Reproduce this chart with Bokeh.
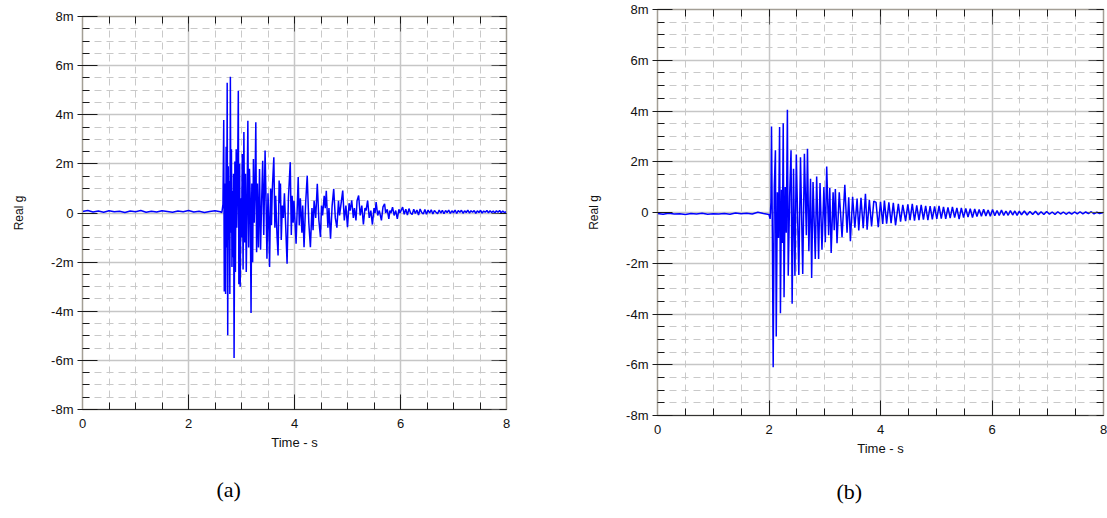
from bokeh.plotting import figure
from bokeh.layouts import row
from bokeh.models import FixedTicker, LinearAxis, Title, Range1d
from bokeh.embed import file_html
from bokeh.resources import INLINE

# ---- record (a): time in s, real acceleration in milli-g ----
t_a = [0.0, 0.1, 0.2, 0.3, 0.4, 0.5, 0.6, 0.7, 0.8, 0.9,
       1.0, 1.1, 1.2, 1.3, 1.4, 1.5, 1.6, 1.7, 1.8, 1.9,
       2.0, 2.1, 2.2, 2.3, 2.4, 2.5, 2.6,
       2.63, 2.65, 2.665, 2.675, 2.69, 2.70, 2.71, 2.72, 2.73, 2.74,
       2.75, 2.76, 2.77, 2.78, 2.79, 2.80, 2.81, 2.82, 2.83, 2.84,
       2.85, 2.86, 2.875, 2.885, 2.90, 2.91, 2.925, 2.94, 2.95, 2.965,
       2.975, 2.99, 3.00, 3.015, 3.03, 3.045, 3.06, 3.075, 3.09, 3.105,
       3.12, 3.135, 3.15, 3.165, 3.18, 3.195, 3.21, 3.225, 3.24, 3.255,
       3.27, 3.285, 3.30, 3.32, 3.34, 3.36, 3.38, 3.40, 3.42, 3.445,
       3.465, 3.48, 3.50, 3.515, 3.53, 3.55, 3.565, 3.58, 3.61, 3.63,
       3.645, 3.67, 3.69, 3.71, 3.725, 3.735, 3.75, 3.77, 3.79, 3.81,
       3.835, 3.86, 3.885, 3.92, 3.94, 3.955, 3.975, 3.99, 4.03, 4.07,
       4.09, 4.11, 4.14, 4.155, 4.18, 4.21, 4.24, 4.27, 4.30, 4.33,
       4.35, 4.37, 4.40, 4.43, 4.46, 4.49, 4.51, 4.53, 4.56, 4.58,
       4.60, 4.63, 4.65, 4.68, 4.71, 4.74, 4.77, 4.80, 4.83, 4.85,
       4.88, 4.91, 4.94, 4.97, 5.00, 5.03, 5.05, 5.08, 5.11, 5.13,
       5.16, 5.18, 5.21, 5.24, 5.27, 5.30, 5.33, 5.35, 5.38, 5.41,
       5.44, 5.47, 5.50, 5.52, 5.54, 5.57, 5.60, 5.64, 5.67, 5.70,
       5.72, 5.75, 5.78, 5.80, 5.82, 5.85, 5.88, 5.91, 5.94, 5.97,
       5.99, 6.04, 6.07, 6.10, 6.13, 6.16, 6.19, 6.22, 6.25, 6.28,
       6.31, 6.34, 6.37, 6.40, 6.43, 6.46, 6.49, 6.52, 6.55, 6.58,
       6.61, 6.64, 6.67, 6.70, 6.73, 6.76, 6.79, 6.82, 6.85, 6.88,
       6.91, 6.94, 6.97, 7.00, 7.03, 7.06, 7.09, 7.12, 7.15, 7.18,
       7.21, 7.24, 7.27, 7.30, 7.33, 7.36, 7.39, 7.42, 7.45, 7.48,
       7.51, 7.54, 7.57, 7.60, 7.63, 7.66, 7.69, 7.72, 7.75, 7.78,
       7.81, 7.84, 7.87, 7.90, 7.93, 7.96, 8.0]
g_a = [0.06, 0.10, 0.04, 0.08, 0.03, 0.09, 0.05, 0.07, 0.02, 0.08,
       0.05, 0.10, 0.03, 0.07, 0.04, 0.09, 0.06, 0.03, 0.08, 0.05,
       0.10, 0.04, 0.07, 0.02, 0.06, 0.09, 0.05,
       0.02, 0.35, 3.79, -3.2, 1.2, -3.3, 2.7, -1.4, 5.30, -4.98,
       1.9, -1.1, 1.3, -3.3, 5.55, -0.8, 2.6, -2.2, 0.9, -1.8,
       1.6, -5.9, 2.1, -2.4, 2.6, -0.6, 1.2, 4.98, -2.9, 2.0,
       -3.0, 0.6, -1.0, 2.4, -2.3, 3.3, -1.2, 1.6, -2.4, 0.4,
       3.76, -1.4, 1.8, 0.6, -4.07, 1.2, -2.0, 2.2, -0.4, 1.0,
       3.69, -1.6, 1.2, -1.4, 1.79, -1.5, 0.5, 2.13, -0.9, 2.54,
       0.3, -1.86, 0.8, -0.2, -2.2, 1.0, -0.5, 0.9, 2.27, -0.6,
       0.7, -0.9, -1.73, 1.32, 0.4, 1.2, -1.1, 0.3, -0.2, 0.8,
       -0.6, -2.07, 0.6, 2.07, -0.9, 0.7, -0.4, 0.5, -1.25, 1.46,
       -0.5, 0.6, -0.8, 0.3, -1.39, 0.4, 1.52, -0.4, -1.39, 0.2,
       -0.7, 0.5, -0.2, 1.19, -0.3, -0.98, 0.3, -0.1, 0.7, 0.2,
       0.9, -0.6, 0.2, -1.05, 0.3, 0.98, -0.2, -0.6, 0.5, -0.1,
       0.4, 0.91, -0.3, 0.3, -0.58, 0.4, 0.1, 0.51, -0.2, 0.2,
       -0.3, 0.5, 0.71, -0.1, 0.3, -0.47, 0.2, 0.1, 0.51, -0.2,
       0.1, -0.47, 0.2, 0.0, 0.44, -0.1, 0.1, -0.30, 0.25, 0.37,
       0.0, 0.15, -0.24, 0.1, 0.0, 0.24, -0.1, 0.1, -0.24, 0.15,
       0.0, 0.24, -0.05, 0.15, -0.08, 0.18, 0.0, -0.06, 0.15, -0.02,
       0.12, -0.08, 0.16, 0.02, -0.04, 0.14, -0.05, 0.12, 0.0, 0.13,
       -0.04, 0.10, 0.03, -0.03, 0.12, 0.0, 0.11, -0.03, 0.10, 0.02,
       0.12, -0.02, 0.09, 0.01, 0.12, -0.02, 0.10, 0.03, 0.11, -0.01,
       0.09, 0.02, 0.12, 0.0, 0.09, 0.03, 0.10, -0.01, 0.09, 0.02,
       0.11, 0.0, 0.08, 0.03, 0.10, 0.01, 0.09, 0.02, 0.08, 0.0,
       0.09, 0.03, 0.10, 0.01, 0.08, 0.02, 0.05]

# ---- record (b): time in s, real acceleration in milli-g ----
t_b = [0.0, 0.1, 0.2, 0.3, 0.4, 0.5, 0.6, 0.7, 0.8, 0.9, 1.0, 1.1, 1.2, 1.3,
       1.4, 1.5, 1.6, 1.7, 1.8, 1.9, 2.0,
       2.02, 2.035, 2.045, 2.06, 2.075, 2.095, 2.115, 2.13, 2.15, 2.17, 2.19,
       2.205, 2.225, 2.24, 2.255, 2.27, 2.29, 2.31, 2.33, 2.345, 2.37, 2.395,
       2.415, 2.44, 2.465, 2.49, 2.535, 2.565, 2.605, 2.635, 2.67, 2.69, 2.715,
       2.745, 2.765, 2.79, 2.83, 2.855, 2.89, 2.915, 2.95, 2.985, 3.01, 3.035,
       3.07, 3.09, 3.115, 3.15, 3.17, 3.19, 3.22, 3.26, 3.31, 3.36, 3.40, 3.43,
       3.46, 3.50, 3.54, 3.58, 3.61, 3.65, 3.69, 3.73, 3.76, 3.80, 3.84, 3.88,
       3.92, 3.96, 4.00, 4.04, 4.07, 4.11, 4.15, 4.19, 4.23, 4.27, 4.32, 4.36,
       4.40, 4.45, 4.49, 4.53, 4.57, 4.61, 4.65, 4.69, 4.73, 4.77, 4.81, 4.85,
       4.89, 4.93, 4.97, 5.01, 5.05, 5.09, 5.13, 5.17, 5.21, 5.25, 5.29, 5.33,
       5.37, 5.41, 5.45, 5.49, 5.53, 5.57, 5.61, 5.65, 5.69, 5.73, 5.77, 5.81,
       5.85, 5.89, 5.93, 5.97, 6.01, 6.05, 6.09, 6.13, 6.17, 6.21, 6.25, 6.29,
       6.33, 6.37, 6.41, 6.45, 6.49, 6.53, 6.58, 6.63, 6.68, 6.73, 6.78, 6.83,
       6.88, 6.93, 6.98, 7.03, 7.08, 7.13, 7.18, 7.23, 7.28, 7.33, 7.38, 7.43,
       7.48, 7.53, 7.58, 7.63, 7.68, 7.73, 7.78, 7.83, 7.88, 7.93, 8.0]
g_b = [-0.04, -0.07, -0.03, -0.06, -0.05, -0.08, -0.04, -0.06, -0.03, -0.07, -0.05, -0.06, -0.04, -0.07,
       -0.02, -0.05, -0.03, -0.06, 0.01, -0.04, -0.08,
       -0.25, 0.4, 3.39, -0.8, -6.1, 1.0, 2.45, -4.89, 0.8, -1.0, 3.37,
       -3.97, 0.9, -1.2, 3.52, -3.34, 1.0, -0.8, 4.05, -2.49, 0.6, 2.45,
       -3.6, 1.72, -2.49, 2.29, -2.46, 2.18, -2.42, 2.31, -0.9, 2.51, -1.53,
       1.33, -2.58, 1.20, -1.83, 1.42, -1.83, 1.16, -1.47, 1.0, -1.17, 1.81,
       -0.9, 0.96, -1.6, 0.8, -0.7, 0.93, -1.21, 0.8, -0.97, 1.09, -0.8, 0.6,
       -1.13, 0.62, -0.60, 0.55, -0.71, 0.58, -0.62, 0.74, -0.68, 0.50, -0.55, 0.45,
       0.40, -0.58, 0.42, -0.45, 0.47, -0.44, 0.40, -0.42, 0.38, -0.51, 0.34, -0.36,
       0.30, -0.34, 0.32, -0.30, 0.34, -0.32, 0.28, -0.30, 0.30, -0.28, 0.26, -0.30,
       0.25, -0.27, 0.24, -0.25, 0.26, -0.24, 0.22, -0.25, 0.20, -0.22, 0.22, -0.20,
       0.18, -0.26, 0.18, -0.20, 0.16, -0.18, 0.15, -0.20, 0.14, -0.16, 0.12, -0.15,
       0.13, -0.14, 0.10, -0.15, 0.12, -0.13, 0.08, -0.12, 0.10, -0.12, 0.06, -0.11,
       0.08, -0.10, 0.06, -0.11, 0.05, -0.09, 0.06, -0.10, 0.04, -0.08, 0.05, -0.09,
       0.03, -0.08, 0.04, -0.07, 0.02, -0.08, 0.03, -0.06, 0.02, -0.07, 0.01, -0.06,
       0.02, -0.05, 0.03, -0.05, 0.02, -0.04, 0.03, -0.05, 0.01, -0.04, 0.0]

# ---- axes ----
x_major = [0, 2, 4, 6, 8]
y_major = [-8, -6, -4, -2, 0, 2, 4, 6, 8]
y_labels = {-8: "-8m", -6: "-6m", -4: "-4m", -2: "-2m", 0: "0",
            2: "2m", 4: "4m", 6: "6m", 8: "8m"}
x_minor = [i * 0.5 for i in range(17)]
y_minor = [-8 + i * 0.5 for i in range(33)]

FRAME = "#a39e95"
TICK = "#1a1a1a"
SANS = "Liberation Sans"


def panel(t, g, fw, fh, left, right, top, bottom, caption, cap_offset, cap_standoff):
    p = figure(frame_width=fw, frame_height=fh, output_backend="svg",
               toolbar_location=None, title=None,
               x_range=Range1d(0, 8), y_range=Range1d(-8, 8),
               min_border_left=left, min_border_right=right,
               min_border_top=top, min_border_bottom=bottom)
    p.background_fill_color = "white"
    p.border_fill_color = "white"
    p.outline_line_color = FRAME
    p.outline_line_width = 1.5

    for ax in p.xaxis:
        ax.ticker = FixedTicker(ticks=x_major, minor_ticks=x_minor)
        ax.axis_label = "Time - s"
        ax.axis_label_text_font = SANS
        ax.axis_label_text_font_size = "13px"
        ax.axis_label_text_font_style = "normal"
        ax.axis_label_text_color = "#111111"
        ax.axis_label_standoff = 4
        ax.major_label_text_font = SANS
        ax.major_label_text_font_size = "13px"
        ax.major_label_text_color = "#111111"
        ax.major_label_standoff = 9
        ax.major_tick_in = 15
        ax.major_tick_out = 0
        ax.minor_tick_in = 7
        ax.minor_tick_out = 0
        ax.major_tick_line_color = TICK
        ax.minor_tick_line_color = TICK
        ax.axis_line_color = "#333333"

    for ax in p.yaxis:
        ax.ticker = FixedTicker(ticks=y_major, minor_ticks=y_minor)
        ax.major_label_overrides = y_labels
        ax.axis_label = "Real g"
        ax.axis_label_text_font = SANS
        ax.axis_label_text_font_size = "12px"
        ax.axis_label_text_font_style = "normal"
        ax.axis_label_text_color = "#111111"
        ax.axis_label_standoff = 22
        ax.major_label_text_font = SANS
        ax.major_label_text_font_size = "13px"
        ax.major_label_text_color = "#111111"
        ax.major_label_standoff = 4
        ax.major_tick_in = 15
        ax.major_tick_out = 5
        ax.minor_tick_in = 7
        ax.minor_tick_out = 0
        ax.major_tick_line_color = TICK
        ax.minor_tick_line_color = TICK
        ax.axis_line_color = FRAME

    # tick marks along the top and right edges of the frame (no labels)
    top_ax = LinearAxis(ticker=FixedTicker(ticks=x_major, minor_ticks=x_minor))
    right_ax = LinearAxis(ticker=FixedTicker(ticks=y_major, minor_ticks=y_minor))
    for ax in (top_ax, right_ax):
        ax.major_label_text_font_size = "1px"
        ax.major_label_text_color = None
        ax.major_label_standoff = 0
        ax.major_tick_in = 15
        ax.major_tick_out = 0
        ax.minor_tick_in = 7
        ax.minor_tick_out = 0
        ax.major_tick_line_color = "#555555"
        ax.minor_tick_line_color = TICK
        ax.axis_line_color = FRAME
    p.add_layout(top_ax, "above")
    p.add_layout(right_ax, "right")

    for grid in (p.xgrid, p.ygrid):
        grid.grid_line_color = "#c6c6c6"
        grid.grid_line_width = 1.5
        grid.minor_grid_line_color = "#c9c9c9"
        grid.minor_grid_line_width = 1
        grid.minor_grid_line_dash = "7 5"

    p.line(t, g, line_color="#0000ff", line_width=1.5)

    p.add_layout(Title(text=caption, align="left", offset=cap_offset,
                       standoff=cap_standoff,
                       text_font="Liberation Serif", text_font_size="22px",
                       text_font_style="normal", text_color="black"), "below")
    return p


pa = panel(t_a, g_a, 424, 393, 82, 54, 16, 109, "(a)", 134, 44)
pb = panel(t_b, g_b, 446, 406, 97, 4, 9, 103, "(b)", 179, 36)
# lift the second panel so that its frame starts higher than the first
pb.margin = (-7, 0, 0, 0)

layout = row(pa, pb)
open("out.html", "w").write(file_html(layout, INLINE))
